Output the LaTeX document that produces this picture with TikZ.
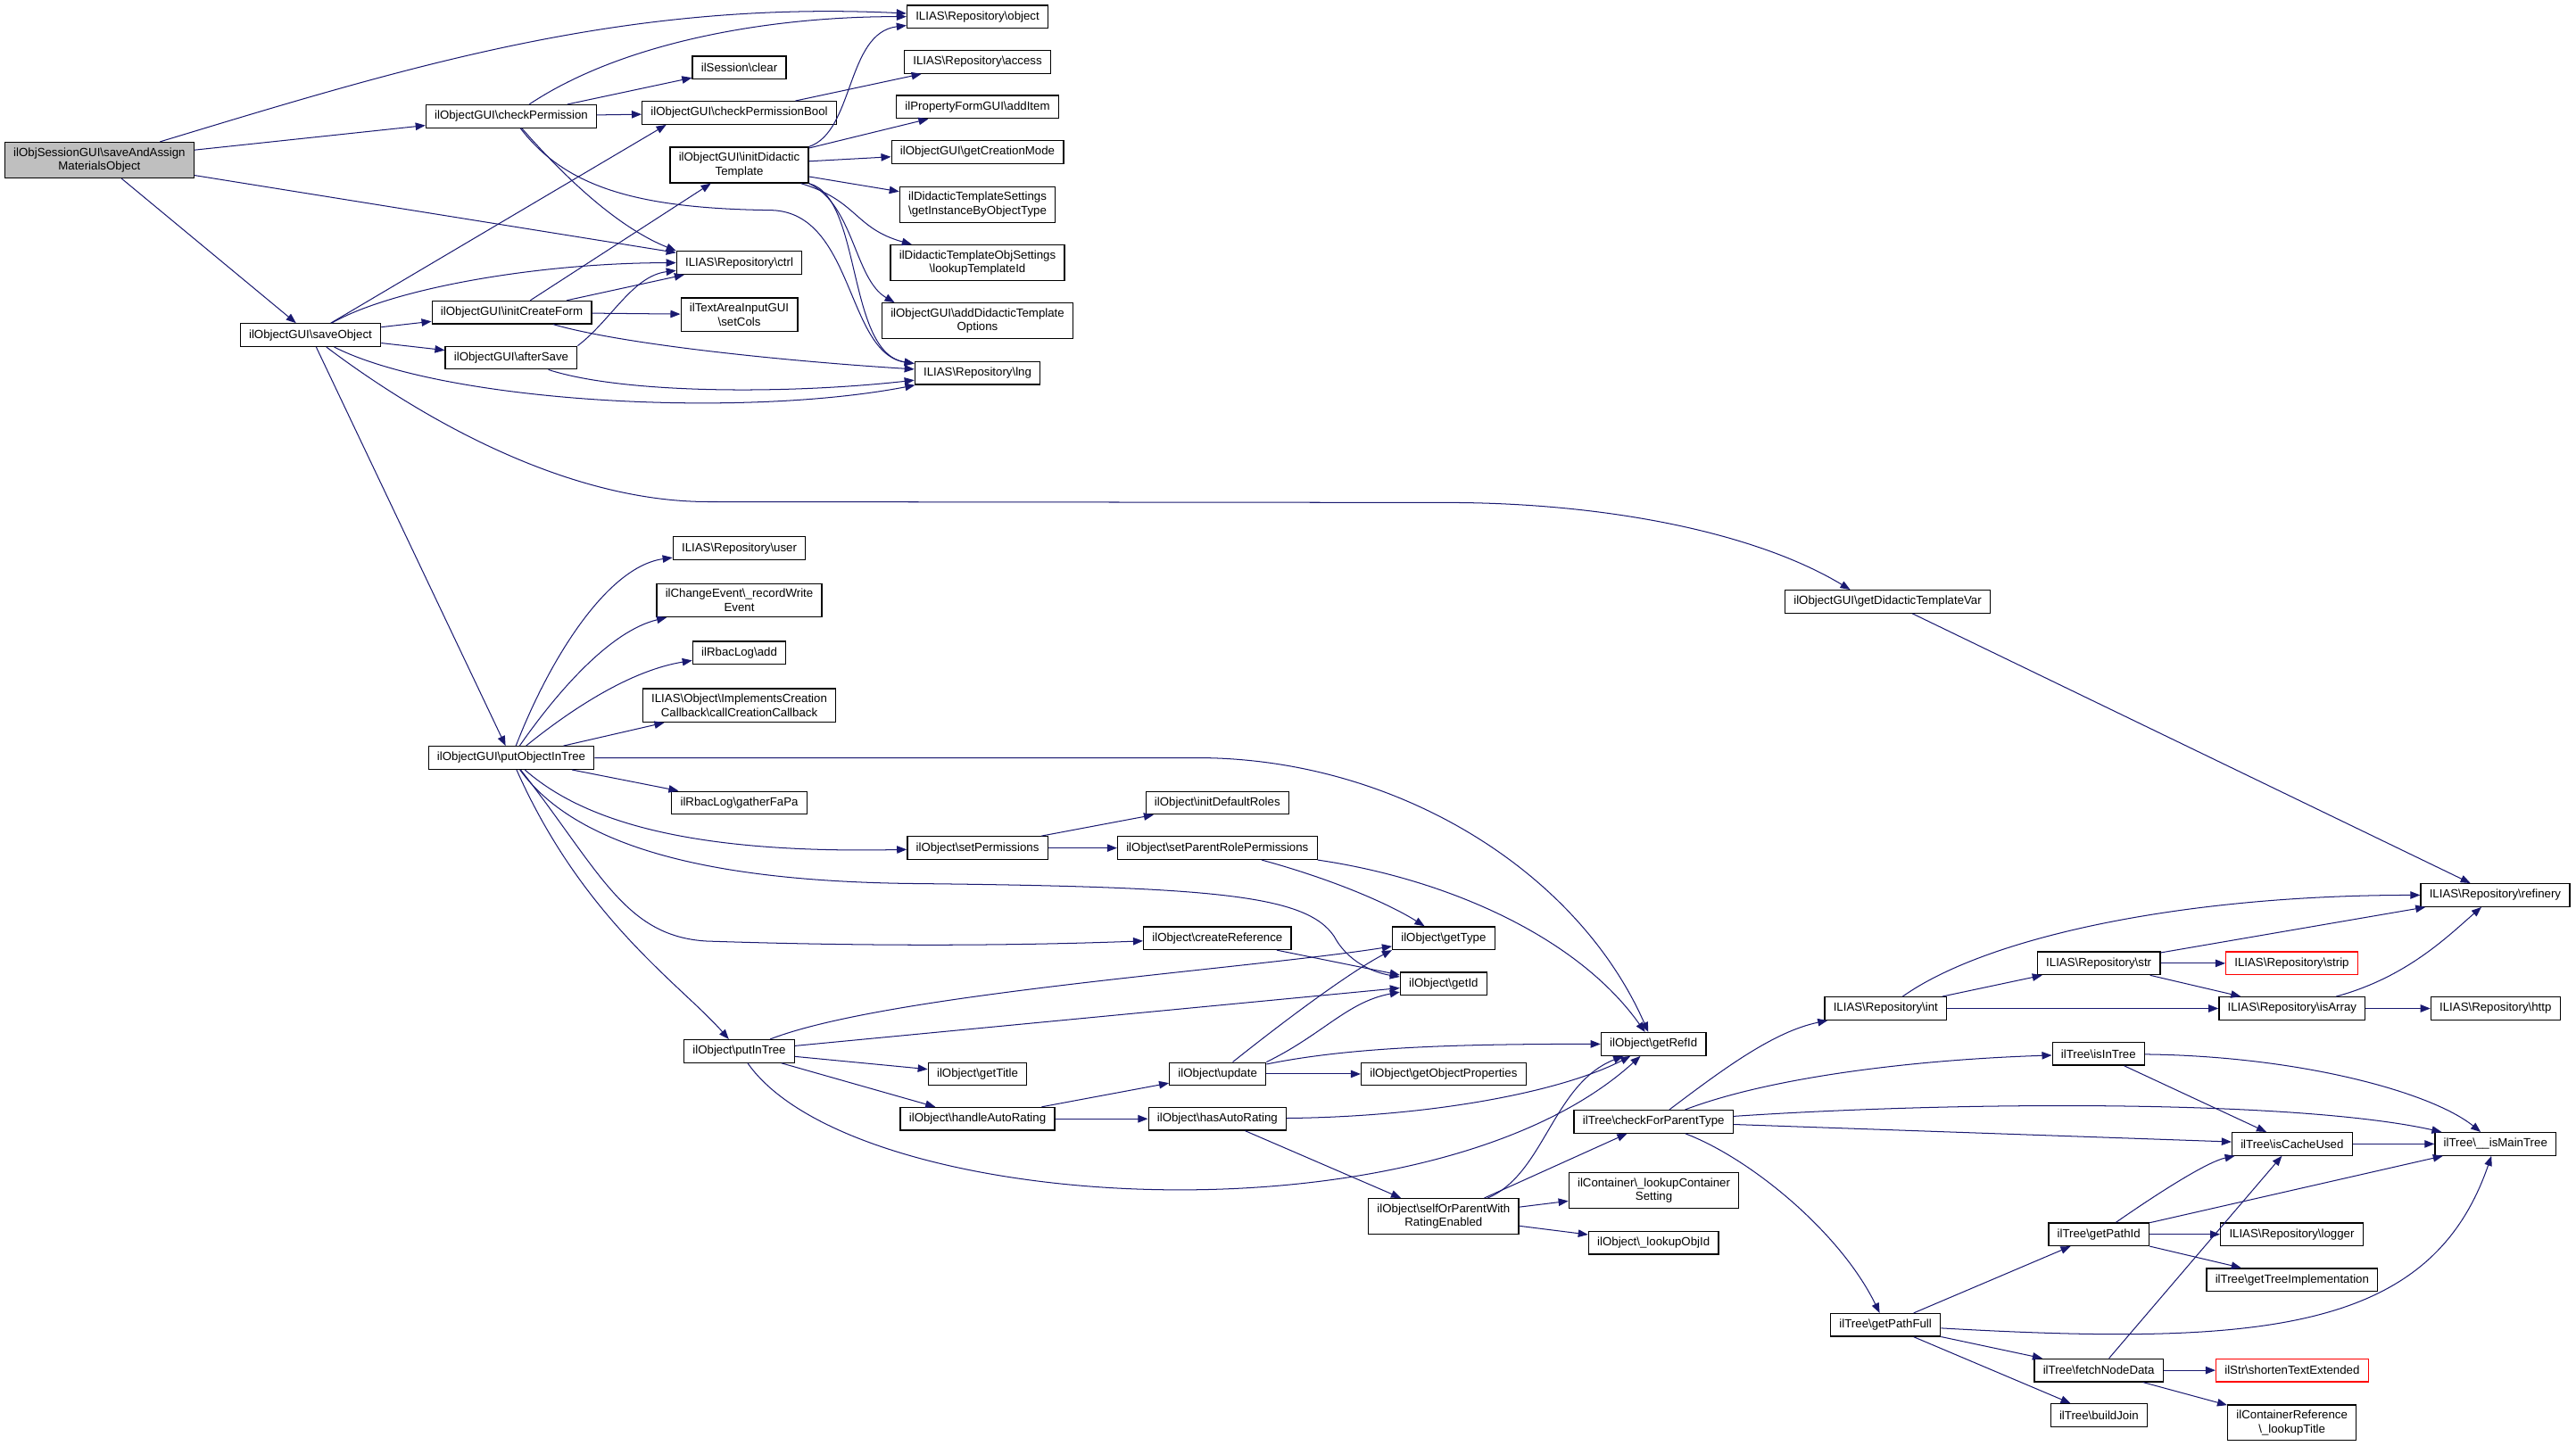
\documentclass[tikz,border=0pt]{standalone}
\usepackage{fontspec}
\setmainfont{Liberation Sans}
\usetikzlibrary{arrows.meta}
\definecolor{edgeblue}{HTML}{191970}
\newcommand{\bsl}{\textbackslash}
\begin{document}
\begin{tikzpicture}[x=1pt, y=-1pt,
  font=\fontsize{7.2}{8.4}\selectfont,
  fn/.style={draw=black, line width=0.7pt, fill=white, align=center,
    inner xsep=5.3pt, inner ysep=3.3pt, minimum height=13.9pt},
  rootfn/.style={fn, fill=gray!50},
  missing/.style={fn, draw=red},
  calls/.style={draw=edgeblue, line width=0.55pt, -{Triangle[length=6pt,width=4.6pt]}}]
\useasboundingbox (0,0) rectangle (1568,880.4);

\node[rootfn] (root) at (60.5,97.5) {ilObjSessionGUI\bsl saveAndAssign\\MaterialsObject};
\node[fn] (saveObj) at (189,204) {ilObjectGUI\bsl saveObject};
\node[fn] (chkPerm) at (311.2,70.8) {ilObjectGUI\bsl checkPermission};
\node[fn] (initForm) at (311.5,190.2) {ilObjectGUI\bsl initCreateForm};
\node[fn] (afterSave) at (311.2,217.8) {ilObjectGUI\bsl afterSave};
\node[fn] (putObjInTree) at (311.2,461.4) {ilObjectGUI\bsl putObjectInTree};
\node[fn] (sessClear) at (450,41.2) {ilSession\bsl clear};
\node[fn] (chkPermBool) at (450,68.7) {ilObjectGUI\bsl checkPermissionBool};
\node[fn] (initDidTpl) at (450,100.5) {ilObjectGUI\bsl initDidactic\\Template};
\node[fn] (repoCtrl) at (450,160) {ILIAS\bsl Repository\bsl ctrl};
\node[fn] (setCols) at (450,191.6) {ilTextAreaInputGUI\\\bsl setCols};
\node[fn] (repoUser) at (450,333.8) {ILIAS\bsl Repository\bsl user};
\node[fn] (writeEvent) at (450,365.5) {ilChangeEvent\bsl\_recordWrite\\Event};
\node[fn] (rbacAdd) at (450,397.5) {ilRbacLog\bsl add};
\node[fn] (creationCb) at (450,429.5) {ILIAS\bsl Object\bsl ImplementsCreation\\Callback\bsl callCreationCallback};
\node[fn] (gatherFaPa) at (450,488.8) {ilRbacLog\bsl gatherFaPa};
\node[fn] (putInTree) at (450,640) {ilObject\bsl putInTree};
\node[fn] (repoObject) at (595,10.2) {ILIAS\bsl Repository\bsl object};
\node[fn] (repoAccess) at (595,37.7) {ILIAS\bsl Repository\bsl access};
\node[fn] (addItem) at (595,65.1) {ilPropertyFormGUI\bsl addItem};
\node[fn] (creationMode) at (595,92.6) {ilObjectGUI\bsl getCreationMode};
\node[fn] (tplSettings) at (595,124.5) {ilDidacticTemplateSettings\\\bsl getInstanceByObjectType};
\node[fn] (lookupTplId) at (595,160) {ilDidacticTemplateObjSettings\\\bsl lookupTemplateId};
\node[fn] (addTplOptions) at (595,195.4) {ilObjectGUI\bsl addDidacticTemplate\\Options};
\node[fn] (repoLng) at (595,227.2) {ILIAS\bsl Repository\bsl lng};
\node[fn] (setPerms) at (595,516.3) {ilObject\bsl setPermissions};
\node[fn] (getTitle) at (595,653.9) {ilObject\bsl getTitle};
\node[fn] (autoRating) at (595,681.2) {ilObject\bsl handleAutoRating};
\node[fn] (initRoles) at (741,488.8) {ilObject\bsl initDefaultRoles};
\node[fn] (setParentPerms) at (741,516.3) {ilObject\bsl setParentRolePermissions};
\node[fn] (createRef) at (741,571.2) {ilObject\bsl createReference};
\node[fn] (objUpdate) at (741.2,653.9) {ilObject\bsl update};
\node[fn] (hasAutoRating) at (741,681.2) {ilObject\bsl hasAutoRating};
\node[fn] (getType) at (878.7,571.2) {ilObject\bsl getType};
\node[fn] (getId) at (878.7,599) {ilObject\bsl getId};
\node[fn] (objProps) at (878.7,653.9) {ilObject\bsl getObjectProperties};
\node[fn] (selfOrParent) at (878.7,740.6) {ilObject\bsl selfOrParentWith\\RatingEnabled};
\node[fn] (getRefId) at (1006.5,635.7) {ilObject\bsl getRefId};
\node[fn] (parentType) at (1006.5,682.9) {ilTree\bsl checkForParentType};
\node[fn] (containerSetting) at (1006.7,724.8) {ilContainer\bsl\_lookupContainer\\Setting};
\node[fn] (lookupObjId) at (1006.5,756.7) {ilObject\bsl\_lookupObjId};
\node[fn] (getDidTplVar) at (1149,366.3) {ilObjectGUI\bsl getDidacticTemplateVar};
\node[fn] (repoInt) at (1147.8,614) {ILIAS\bsl Repository\bsl int};
\node[fn] (getPathFull) at (1147.7,806.7) {ilTree\bsl getPathFull};
\node[fn] (repoStr) at (1277.5,586.5) {ILIAS\bsl Repository\bsl str};
\node[fn] (isInTree) at (1277.3,641.6) {ilTree\bsl isInTree};
\node[fn] (getPathId) at (1277.5,751.5) {ilTree\bsl getPathId};
\node[fn] (fetchNodeData) at (1277.5,834.3) {ilTree\bsl fetchNodeData};
\node[fn] (buildJoin) at (1277.6,861.7) {ilTree\bsl buildJoin};
\node[missing] (repoStrip) at (1395,586.5) {ILIAS\bsl Repository\bsl strip};
\node[fn] (isArray) at (1395.2,614) {ILIAS\bsl Repository\bsl isArray};
\node[fn] (isCacheUsed) at (1395.2,696.5) {ilTree\bsl isCacheUsed};
\node[fn] (repoLogger) at (1395,751.5) {ILIAS\bsl Repository\bsl logger};
\node[fn] (treeImpl) at (1395.2,779.2) {ilTree\bsl getTreeImplementation};
\node[missing] (shortenText) at (1395.2,834.3) {ilStr\bsl shortenTextExtended};
\node[fn] (lookupTitle) at (1395.1,866.2) {ilContainerReference\\\bsl\_lookupTitle};
\node[fn] (refinery) at (1518.8,545) {ILIAS\bsl Repository\bsl refinery};
\node[fn] (repoHttp) at (1519,614) {ILIAS\bsl Repository\bsl http};
\node[fn] (isMainTree) at (1519,696.5) {ilTree\bsl\_\_isMainTree};

\draw[calls] (root) .. controls (250,40) and (380,0) .. (repoObject);
\draw[calls] (root) -- (chkPerm);
\draw[calls] (root) -- (repoCtrl);
\draw[calls] (root) -- (saveObj);
\draw[calls] (chkPerm) .. controls (380,25) and (470,10) .. (repoObject);
\draw[calls] (chkPerm) -- (sessClear);
\draw[calls] (chkPerm) -- (chkPermBool);
\draw[calls] (chkPerm) .. controls (350,115) and (380,140) .. (repoCtrl.north west);
\draw[calls] (chkPerm) .. controls (345,115) and (390,127) .. (470,128) .. controls (520,130) and (515,215) .. (repoLng);
\draw[calls] (chkPermBool) -- (repoAccess);
\draw[calls] (initDidTpl.north east) .. controls (520,80) and (515,20) .. (repoObject);
\draw[calls] (initDidTpl) -- (addItem);
\draw[calls] (initDidTpl) -- (creationMode);
\draw[calls] (initDidTpl) -- (tplSettings);
\draw[calls] (initDidTpl) .. controls (522,122) and (520,139) .. (lookupTplId);
\draw[calls] (initDidTpl.south east) .. controls (520,125) and (520,170) .. ([xshift=8pt]addTplOptions.north west);
\draw[calls] (initDidTpl.south east) .. controls (525,120) and (515,215) .. (repoLng);
\draw[calls] (saveObj) -- ([xshift=15pt]chkPermBool.south west);
\draw[calls] (saveObj) .. controls (240,175) and (330,160) .. (repoCtrl);
\draw[calls] (saveObj) -- (initForm);
\draw[calls] (saveObj) -- (afterSave);
\draw[calls] (saveObj) .. controls (270,245) and (450,255) .. (repoLng);
\draw[calls] (saveObj) -- (putObjInTree);
\draw[calls] (saveObj) .. controls (250,250) and (340,305) .. (430,305.5) -- (880,306) .. controls (980,306) and (1070,325) .. ([xshift=40pt]getDidTplVar.north west);
\draw[calls] (getDidTplVar) -- (refinery);
\draw[calls] (initForm) .. controls (380,210) and (480,220) .. (repoLng);
\draw[calls] (initForm) -- (initDidTpl);
\draw[calls] (initForm) -- (repoCtrl);
\draw[calls] (initForm) -- (setCols);
\draw[calls] (afterSave.north east) .. controls (372,195) and (385,168) .. (repoCtrl);
\draw[calls] (afterSave) .. controls (380,240) and (480,240) .. (repoLng);

\draw[calls] (putObjInTree) .. controls (335,400) and (370,345) .. (repoUser);
\draw[calls] (putObjInTree) .. controls (340,420) and (372,384) .. (writeEvent);
\draw[calls] (putObjInTree) .. controls (350,430) and (385,408) .. (rbacAdd);
\draw[calls] (putObjInTree) -- (creationCb);
\draw[calls] (putObjInTree) -- (gatherFaPa);
\draw[calls] (putObjInTree) .. controls (355,500) and (420,520) .. (setPerms);
\draw[calls] (putObjInTree) .. controls (350,515) and (430,537) .. (560,538) .. controls (740,540) and (795,545) .. (812,570) .. controls (820,585) and (835,592) .. (getId);
\draw[calls] (putObjInTree) .. controls (365,530) and (380,570) .. (430,573) .. controls (550,577) and (640,575) .. (createRef);
\draw[calls] (putObjInTree) .. controls (355,560) and (415,600) .. (putInTree);
\draw[calls] (putObjInTree) -- (730,461.4) .. controls (850,462) and (960,530) .. (getRefId);
\draw[calls] (setPerms) -- (initRoles);
\draw[calls] (setPerms) -- (setParentPerms);
\draw[calls] (setParentPerms) .. controls (810,535) and (845,550) .. (getType);
\draw[calls] (setParentPerms.south east) .. controls (880,535) and (960,570) .. (getRefId);
\draw[calls] (createRef) -- (getId);

\draw[calls] (putInTree) .. controls (540,605) and (760,590) .. (getType);
\draw[calls] (putInTree) -- (getId);
\draw[calls] (putInTree) -- (getTitle);
\draw[calls] (putInTree) -- (autoRating);
\draw[calls] (putInTree) .. controls (520,740) and (870,760) .. (getRefId);
\draw[calls] (autoRating) -- (objUpdate);
\draw[calls] (autoRating) -- (hasAutoRating);
\draw[calls] (objUpdate) .. controls (790,615) and (825,590) .. (getType.south west);
\draw[calls] (objUpdate.north east) .. controls (805,630) and (820,610) .. (getId);
\draw[calls] (objUpdate) .. controls (820,638) and (880,635.6) .. (getRefId);
\draw[calls] (objUpdate) -- (objProps);
\draw[calls] (hasAutoRating) .. controls (870,680) and (950,665) .. (getRefId);
\draw[calls] (hasAutoRating) -- (selfOrParent);
\draw[calls] (selfOrParent) .. controls (940,715) and (945,660) .. (getRefId);
\draw[calls] (selfOrParent) -- (parentType);
\draw[calls] (selfOrParent) -- (containerSetting);
\draw[calls] (selfOrParent) -- (lookupObjId);

\draw[calls] (parentType) .. controls (1050,650) and (1080,628) .. (repoInt);
\draw[calls] (parentType) .. controls (1080,655) and (1170,645) .. (isInTree);
\draw[calls] (parentType) .. controls (1200,670) and (1400,670) .. (isMainTree);
\draw[calls] (parentType) -- (isCacheUsed);
\draw[calls] (parentType) .. controls (1065,705) and (1120,750) .. (getPathFull);
\draw[calls] (repoInt) .. controls (1210,570) and (1330,545) .. (refinery);
\draw[calls] (repoInt) -- (repoStr);
\draw[calls] (repoInt) -- (isArray);
\draw[calls] (repoStr) -- (refinery);
\draw[calls] (repoStr) -- (repoStrip);
\draw[calls] (repoStr) -- (isArray);
\draw[calls] (isArray) .. controls (1465,595) and (1490,570) .. (refinery);
\draw[calls] (isArray) -- (repoHttp);
\draw[calls] (isInTree) -- (isCacheUsed);
\draw[calls] (isInTree) .. controls (1400,643) and (1480,665) .. (isMainTree);
\draw[calls] (isCacheUsed) -- (isMainTree);
\draw[calls] (getPathFull) -- (getPathId);
\draw[calls] (getPathFull) .. controls (1380,820) and (1480,810) .. (isMainTree);
\draw[calls] (getPathFull) -- (fetchNodeData);
\draw[calls] (getPathFull) -- (buildJoin);
\draw[calls] (getPathId) .. controls (1320,722) and (1345,707) .. (isCacheUsed);
\draw[calls] (getPathId) -- (isMainTree);
\draw[calls] (getPathId) -- (repoLogger);
\draw[calls] (getPathId) -- (treeImpl);
\draw[calls] (fetchNodeData) -- (isCacheUsed);
\draw[calls] (fetchNodeData) -- (shortenText);
\draw[calls] (fetchNodeData) -- (lookupTitle);
\end{tikzpicture}
\end{document}
